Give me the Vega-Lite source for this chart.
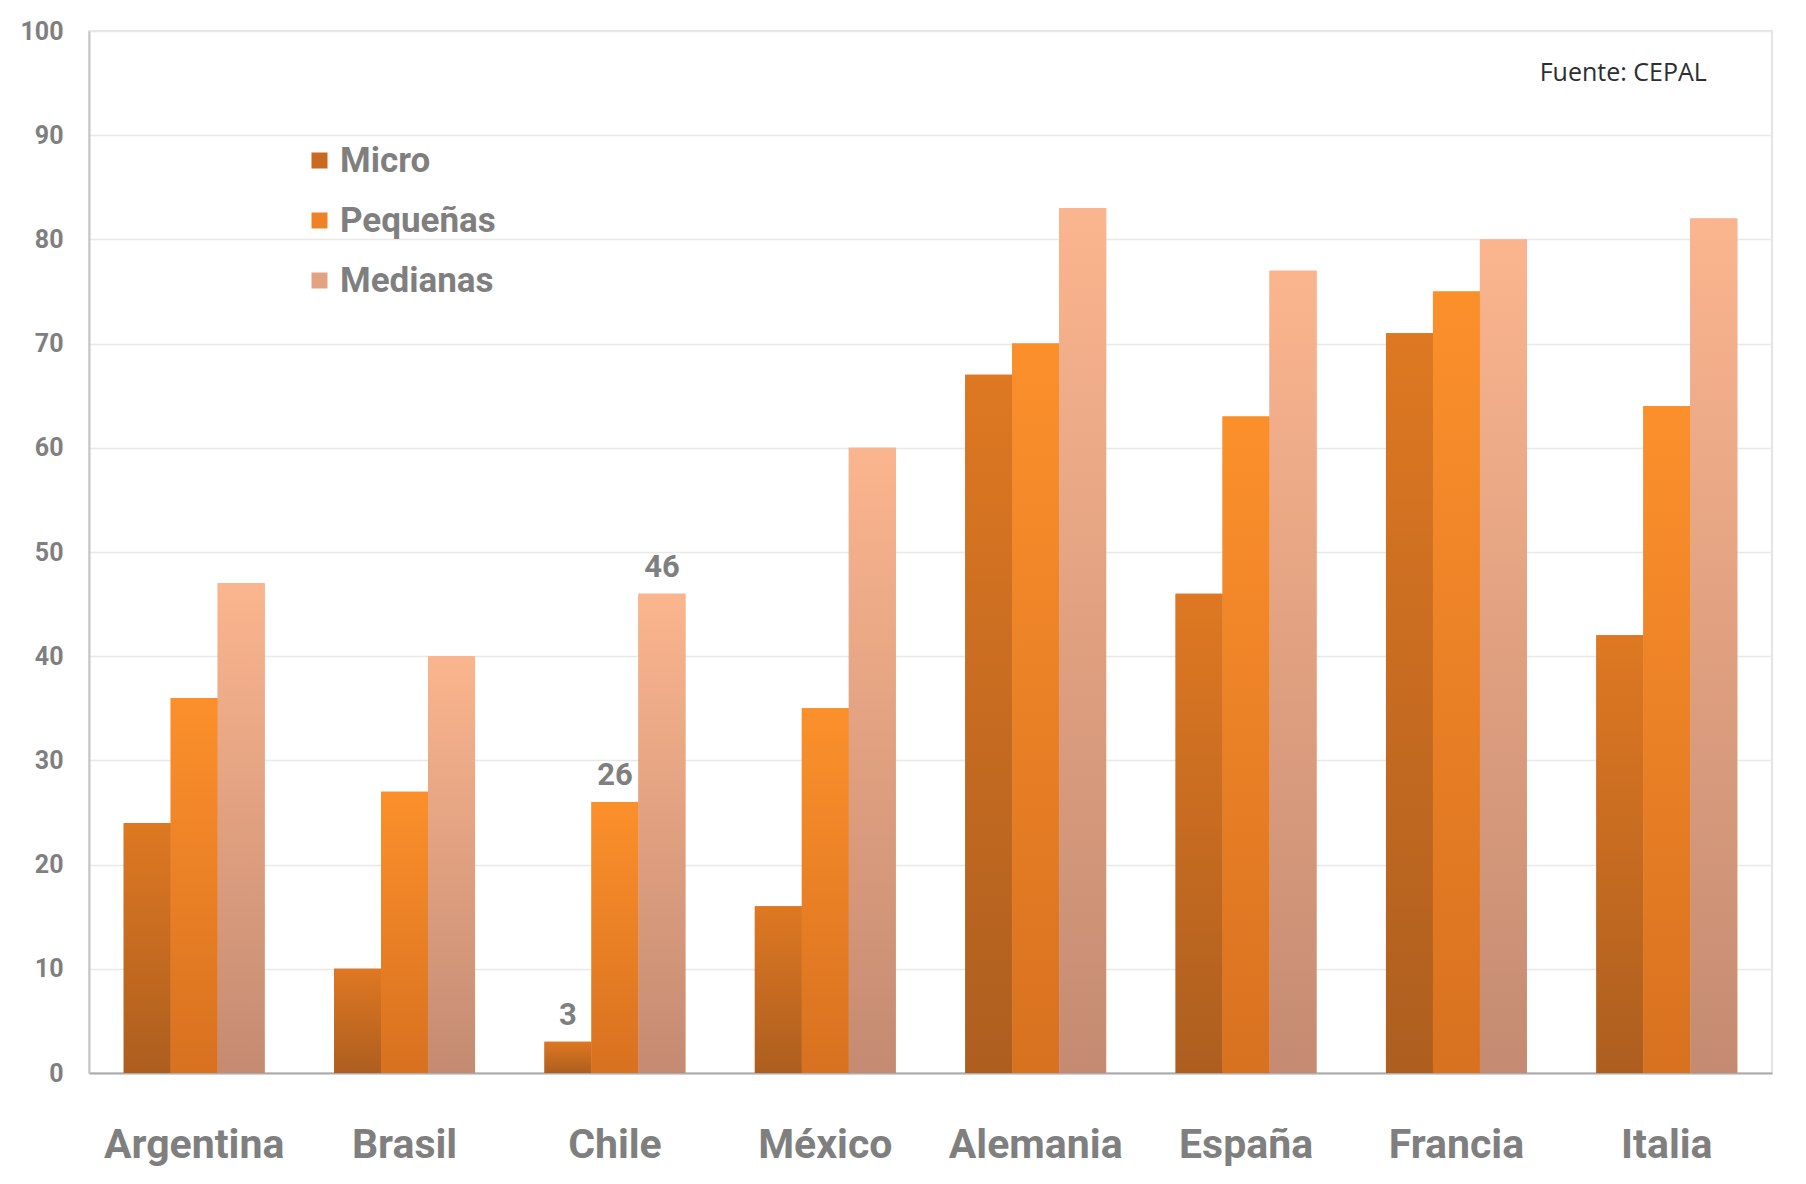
{
  "$schema": "https://vega.github.io/schema/vega-lite/v6.json",
  "width": 1683,
  "height": 1042,
  "autosize": {"type": "none"},
  "padding": {"left": 89, "top": 31, "right": 34, "bottom": 111},
  "background": "#ffffff",
  "config": {
    "view": {"stroke": "#dcdcdc", "strokeWidth": 1.5},
    "font": "Roboto"
  },
  "data": {
    "values": [
      {"pais": "Argentina", "tamano": "Micro", "valor": 24},
      {"pais": "Argentina", "tamano": "Pequeñas", "valor": 36},
      {"pais": "Argentina", "tamano": "Medianas", "valor": 47},
      {"pais": "Brasil", "tamano": "Micro", "valor": 10},
      {"pais": "Brasil", "tamano": "Pequeñas", "valor": 27},
      {"pais": "Brasil", "tamano": "Medianas", "valor": 40},
      {"pais": "Chile", "tamano": "Micro", "valor": 3},
      {"pais": "Chile", "tamano": "Pequeñas", "valor": 26},
      {"pais": "Chile", "tamano": "Medianas", "valor": 46},
      {"pais": "México", "tamano": "Micro", "valor": 16},
      {"pais": "México", "tamano": "Pequeñas", "valor": 35},
      {"pais": "México", "tamano": "Medianas", "valor": 60},
      {"pais": "Alemania", "tamano": "Micro", "valor": 67},
      {"pais": "Alemania", "tamano": "Pequeñas", "valor": 70},
      {"pais": "Alemania", "tamano": "Medianas", "valor": 83},
      {"pais": "España", "tamano": "Micro", "valor": 46},
      {"pais": "España", "tamano": "Pequeñas", "valor": 63},
      {"pais": "España", "tamano": "Medianas", "valor": 77},
      {"pais": "Francia", "tamano": "Micro", "valor": 71},
      {"pais": "Francia", "tamano": "Pequeñas", "valor": 75},
      {"pais": "Francia", "tamano": "Medianas", "valor": 80},
      {"pais": "Italia", "tamano": "Micro", "valor": 42},
      {"pais": "Italia", "tamano": "Pequeñas", "valor": 64},
      {"pais": "Italia", "tamano": "Medianas", "valor": 82}
    ]
  },
  "encoding": {
    "x": {
      "field": "pais",
      "type": "nominal",
      "scale": {
        "domain": ["Argentina", "Brasil", "Chile", "México", "Alemania", "España", "Francia", "Italia"],
        "paddingInner": 0.33,
        "paddingOuter": 0.165
      },
      "axis": {
        "title": null,
        "labelAngle": 0,
        "ticks": false,
        "grid": false,
        "domainColor": "#ababab",
        "domainWidth": 2,
        "labelFont": "Roboto",
        "labelFontSize": 41,
        "labelFontWeight": "bold",
        "labelColor": "#7f7f7f",
        "labelLimit": 0,
        "labelBaseline": "alphabetic",
        "labelPadding": 84
      }
    },
    "y": {
      "field": "valor",
      "type": "quantitative",
      "scale": {"domain": [0, 100], "nice": false},
      "axis": {
        "title": null,
        "values": [0, 10, 20, 30, 40, 50, 60, 70, 80, 90, 100],
        "ticks": false,
        "gridColor": "#e8e8e8",
        "gridWidth": 1.5,
        "domainColor": "#c4c4c4",
        "domainWidth": 2,
        "labelFont": "Roboto",
        "labelFontSize": 25,
        "labelFontWeight": "bold",
        "labelColor": "#7f7f7f",
        "labelPadding": 26
      }
    }
  },
  "layer": [
    {
      "mark": {"type": "bar"},
      "encoding": {
        "xOffset": {
          "field": "tamano",
          "type": "nominal",
          "scale": {"domain": ["Micro", "Pequeñas", "Medianas"], "paddingInner": 0, "paddingOuter": 0}
        },
        "color": {
          "field": "tamano",
          "type": "nominal",
          "scale": {
            "domain": ["Micro", "Pequeñas", "Medianas"],
            "range": ["#c96a20", "#ef8226", "#e3a382"]
          },
          "legend": {
            "title": null,
            "orient": "none",
            "legendX": 213,
            "legendY": 112,
            "padding": 0,
            "symbolType": "square",
            "symbolSize": 256,
            "symbolStrokeWidth": 0,
            "symbolOpacity": 1,
            "labelFont": "Roboto",
            "labelFontSize": 35,
            "labelFontWeight": "bold",
            "labelColor": "#7f7f7f",
            "labelLimit": 0,
            "labelOffset": 3,
            "rowPadding": 24
          }
        }
      }
    },
    {
      "transform": [{"filter": "datum.tamano === 'Micro'"}],
      "mark": {
        "type": "bar",
        "color": {
          "gradient": "linear", "x1": 0, "y1": 0, "x2": 0, "y2": 1,
          "stops": [{"offset": 0, "color": "#de7822"}, {"offset": 1, "color": "#ad5e1f"}]
        }
      },
      "encoding": {"xOffset": {"field": "tamano", "type": "nominal"}}
    },
    {
      "transform": [{"filter": "datum.tamano === 'Pequeñas'"}],
      "mark": {
        "type": "bar",
        "color": {
          "gradient": "linear", "x1": 0, "y1": 0, "x2": 0, "y2": 1,
          "stops": [{"offset": 0, "color": "#fb902b"}, {"offset": 1, "color": "#d87120"}]
        }
      },
      "encoding": {"xOffset": {"field": "tamano", "type": "nominal"}}
    },
    {
      "transform": [{"filter": "datum.tamano === 'Medianas'"}],
      "mark": {
        "type": "bar",
        "color": {
          "gradient": "linear", "x1": 0, "y1": 0, "x2": 0, "y2": 1,
          "stops": [{"offset": 0, "color": "#fbb58e"}, {"offset": 1, "color": "#c48b72"}]
        }
      },
      "encoding": {"xOffset": {"field": "tamano", "type": "nominal"}}
    },
    {
      "transform": [{"filter": "datum.pais === 'Chile'"}],
      "mark": {
        "type": "text",
        "baseline": "alphabetic",
        "dy": -17,
        "font": "Roboto",
        "fontSize": 31,
        "fontWeight": "bold",
        "color": "#7f7f7f"
      },
      "encoding": {
        "xOffset": {"field": "tamano", "type": "nominal"},
        "text": {"field": "valor", "type": "quantitative"}
      }
    },
    {
      "data": {"values": [{"nota": "Fuente: CEPAL", "pais": "Italia", "valor": 96}]},
      "mark": {
        "type": "text",
        "align": "right",
        "baseline": "middle",
        "dx": 40,
        "font": "Open Sans",
        "fontSize": 25,
        "fill": "#2e2e2e"
      },
      "encoding": {
        "text": {"field": "nota", "type": "nominal"}
      }
    }
  ]
}
